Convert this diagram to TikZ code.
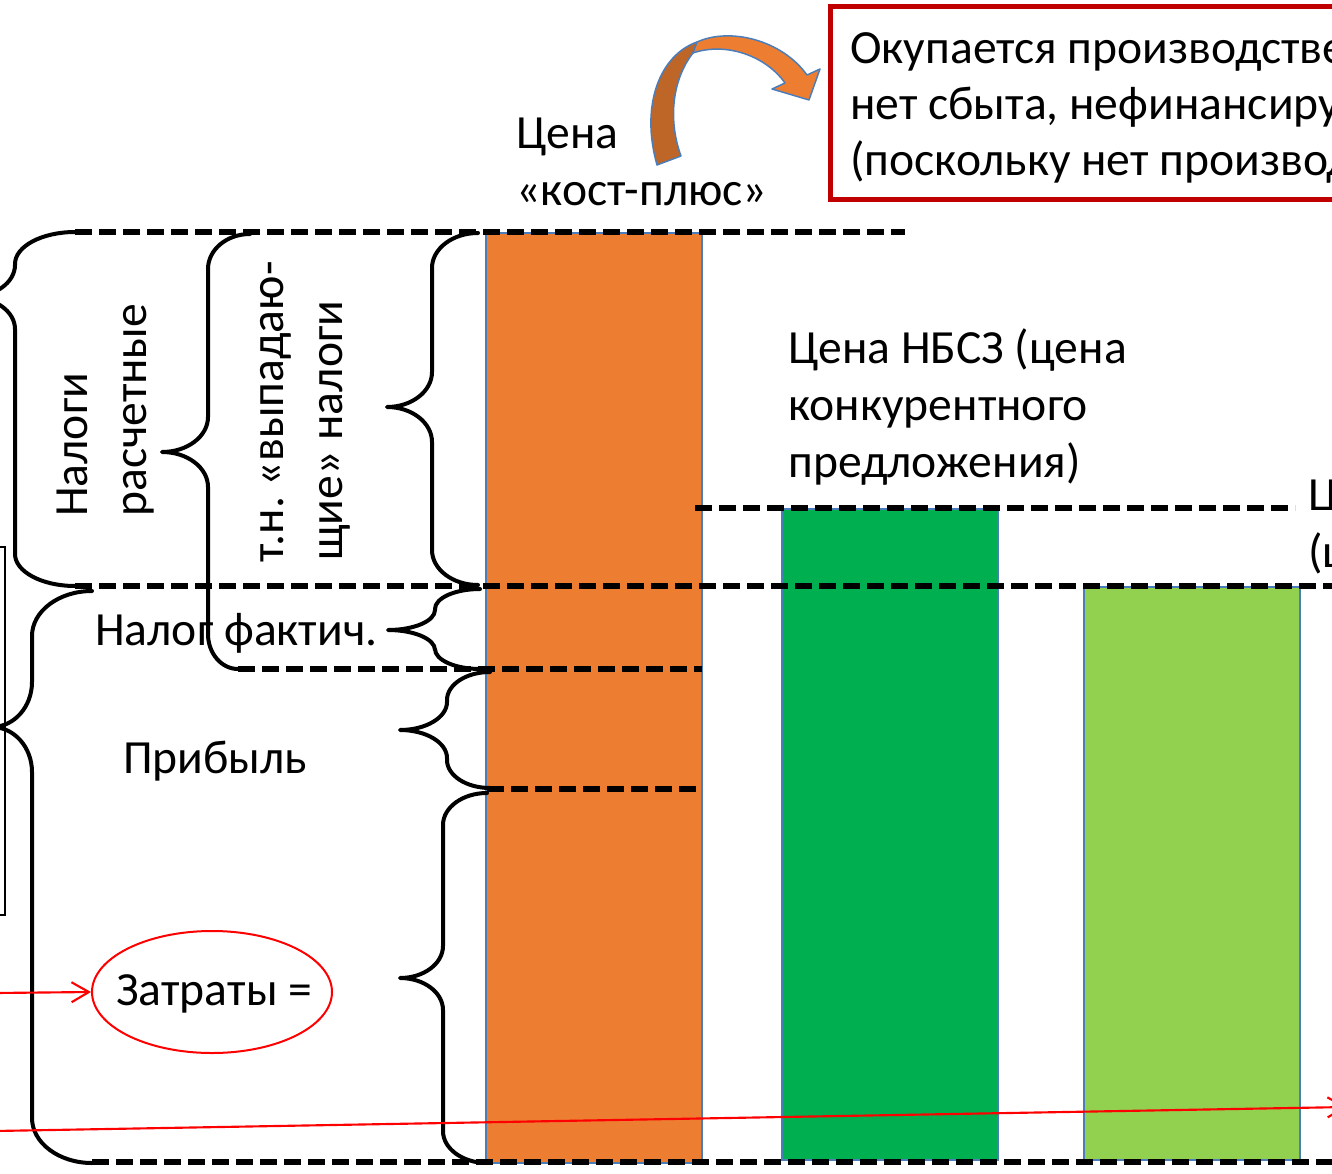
\documentclass[tikz,border=0pt]{standalone}
\usepackage{fontspec}
\setmainfont{Carlito}
\frenchspacing
\usetikzlibrary{arrows.meta,shapes.geometric}
\definecolor{orng}{HTML}{ED7D31}
\definecolor{dorng}{HTML}{BE6528}
\definecolor{dgreen}{HTML}{00B050}
\definecolor{lgreen}{HTML}{92D050}
\definecolor{barblue}{HTML}{4A7EBB}
\definecolor{boxred}{HTML}{C00000}
\tikzset{
  lbl/.style={font=\fontsize{35.7}{43.5}\selectfont, inner sep=0pt, anchor=base west},
  barstyle/.style={draw=barblue, line width=1.1pt},
  dashline/.style={black, line width=3.8pt, dash pattern=on 13pt off 5pt},
  bracestyle/.style={black, line width=3pt, line cap=round, line join=round},
  redarrow/.style={red, line width=1.6pt, -{Straight Barb[length=13pt,width=15pt,line width=1.6pt]}},
  arrowshape/.style={draw=barblue, line width=1.1pt, line join=round}
}
\newcommand\drawbrace[8]{%
\pgfmathsetmacro\bzA{(#1)-0.552*((#1)-(#5))}%
\pgfmathsetmacro\bzB{(#3)-0.552*((#3)-(#5))}%
\pgfmathsetmacro\bzC{(#2)+0.448*(#8)}%
\pgfmathsetmacro\bzD{(#2)+(#8)}%
\pgfmathsetmacro\bzE{(#7)-(#8)}%
\pgfmathsetmacro\bzF{(#7)-0.448*(#8)}%
\pgfmathsetmacro\bzG{(#6)+0.552*((#5)-(#6))}%
\pgfmathsetmacro\bzH{(#7)+0.448*(#8)}%
\pgfmathsetmacro\bzI{(#7)+(#8)}%
\pgfmathsetmacro\bzJ{(#4)-(#8)}%
\pgfmathsetmacro\bzK{(#4)-0.448*(#8)}%
\draw[bracestyle] (#1,#2) .. controls (\bzA,#2) and (#5,\bzC) .. (#5,\bzD) -- (#5,\bzE) .. controls (#5,\bzF) and (\bzG,#7) .. (#6,#7) .. controls (\bzG,#7) and (#5,\bzH) .. (#5,\bzI) -- (#5,\bzJ) .. controls (#5,\bzK) and (\bzB,#4) .. (#3,#4);
}
\begin{document}
\begin{tikzpicture}[x=0.75pt,y=-0.75pt]
\useasboundingbox (0,0) rectangle (1332,1174);
\clip (0,0) rectangle (1332,1174);
\fill[white] (0,0) rectangle (1332,1174);

% bars
\draw[barstyle, fill=orng] (486,233) rectangle (702,1163);
\draw[barstyle, fill=dgreen] (782,509) rectangle (998,1160);
\draw[barstyle, fill=lgreen] (1084,587) rectangle (1300,1160);

% thin rectangle at left
\draw[black, line width=1pt] (-20,547) rectangle (5,915);

% dashed guide lines
\draw[dashline] (75,232) -- (905,232);
\draw[dashline] (695,508) -- (1295,508);
\draw[dashline] (75,586) -- (1340,586);
\draw[dashline] (238,669) -- (702,669);
\draw[dashline] (487,789) -- (700,789);
\draw[dashline] (92,1162) -- (1340,1162);

% texts
\node[lbl] (cena1) at (516,148) {Цена};
\node[lbl] (cena2) at (516,205) {«кост-плюс»};
\node[lbl] (nb1) at (788,363) {Цена НБСЗ (цена};
\node[lbl] (nb2) at (788,420) {конкурентного};
\node[lbl] (nb3) at (788,477) {предложения)};
\node[lbl] (r1) at (1308,510) {Цена};
\node[lbl] (r2) at (1308,567) {(цена};
\node[lbl] (nf) at (95,645) {Налог фактич.};
\node[lbl] (pr) at (123,773) {Прибыль};
\node[lbl,rotate=90] (nal1) at (87,517) {Налоги};
\node[lbl,rotate=90] (nal2) at (146,517) {расчетные};
\node[lbl,rotate=90] (vyp1) at (283,563) {т.н. «выпадаю-};
\node[lbl,rotate=90] (vyp2) at (342,561) {щие» налоги};

% braces
\drawbrace{75}{232}{75}{586}{15}{-30}{297}{32}
\drawbrace{250}{234}{238}{669}{208}{162}{452}{35}
\drawbrace{478}{233}{478}{585}{432}{387}{407}{35}
\drawbrace{480}{589}{480}{669}{435}{388}{630}{20}
\drawbrace{490}{672}{490}{788}{447}{400}{730}{28}
\drawbrace{487}{793}{487}{1163}{443}{400}{978}{32}
\drawbrace{92}{591}{92}{1163}{32}{-8}{727}{45}

% ellipse with Затраты
\node[ellipse, draw=red, line width=1.5pt, minimum width=180pt, minimum height=91.5pt, inner sep=0pt] (zat) at (212,992) {};
\node[lbl] (zattxt) at (116,1005) {Затраты =};
\coordinate (zsrc) at (-5,993);
\draw[redarrow] (zsrc) -- (zat.west);
\coordinate (ls) at (-5,1131);
\coordinate (le) at (1347,1107);
\draw[redarrow] (ls) -- (le);

% red box
\draw[boxred, line width=3.75pt] (830,6) rectangle (1390,199);
\node[lbl] (ok1) at (850,63) {Окупается производстве};
\node[lbl] (ok2) at (850,119) {нет сбыта, нефинансиру};
\node[lbl] (ok3) at (850,175) {(поскольку нет производ};

% curved block arrow
\draw[arrowshape, fill=dorng] (657,165) .. controls (640,105) and (660,55) .. (697,42) -- (693,53) .. controls (672,80) and (668,120) .. (681,156) -- cycle;
\draw[arrowshape, fill=orng] (697,42) .. controls (730,27) and (782,40) .. (807,75) -- (820,69) -- (809,100) -- (772,89) -- (785,83) .. controls (765,55) and (725,42) .. (693,53) -- cycle;
\end{tikzpicture}
\end{document}
